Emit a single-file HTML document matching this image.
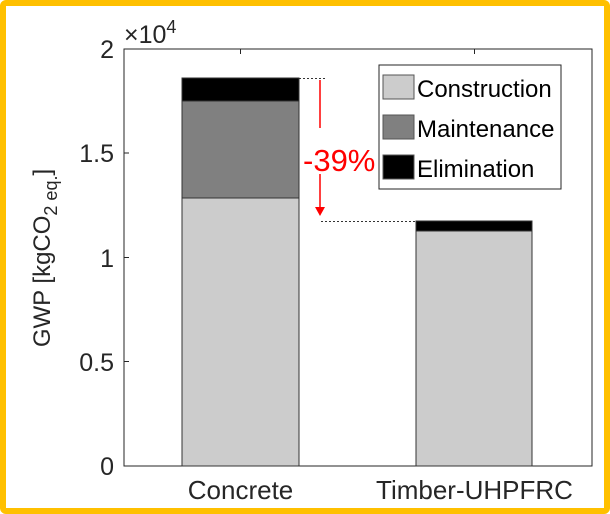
<!DOCTYPE html>
<html><head><style>
body{margin:0;background:#fff;}
.f{position:absolute;left:0;top:0;width:610px;height:514px;box-sizing:border-box;border:6px solid #FFC000;border-radius:6px;}
</style></head><body>
<div class="f"></div>
<svg width="610" height="514" style="position:absolute;left:0;top:0" font-family="Liberation Sans, sans-serif">
<rect x="124" y="49" width="468" height="417" fill="#fff" stroke="#262626" stroke-width="1"/>
<g stroke="#262626" stroke-width="1">
<line x1="124" y1="153" x2="129" y2="153"/><line x1="124" y1="257.5" x2="129" y2="257.5"/><line x1="124" y1="361.5" x2="129" y2="361.5"/>
<line x1="240.5" y1="466" x2="240.5" y2="461"/><line x1="474.5" y1="466" x2="474.5" y2="461"/>
<line x1="240.5" y1="49" x2="240.5" y2="54"/><line x1="474.5" y1="49" x2="474.5" y2="54"/>
</g>
<g stroke="#333" stroke-width="1">
<rect x="182" y="198" width="117" height="268" fill="#cccccc"/>
<rect x="182" y="101" width="117" height="97" fill="#808080"/>
<rect x="182" y="78" width="117" height="23" fill="#000"/>
<rect x="416" y="231" width="116" height="235" fill="#cccccc"/>
<rect x="416" y="221" width="116" height="10" fill="#000"/>
</g>
<g font-size="25" fill="#262626" text-anchor="end">
<text x="114" y="58">2</text><text x="114" y="162">1.5</text><text x="114" y="267">1</text><text x="114" y="371">0.5</text><text x="114" y="475">0</text>
</g>
<text x="124" y="43" font-size="25" fill="#262626">×10<tspan font-size="18" dy="-10">4</tspan></text>
<g font-size="26" fill="#262626" text-anchor="middle">
<text x="240.5" y="499">Concrete</text><text x="474.5" y="499">Timber-UHPFRC</text>
</g>
<text transform="translate(50,258) rotate(-90)" font-size="24" fill="#262626" text-anchor="middle">GWP [kgCO<tspan font-size="18" dy="7">2 eq.</tspan><tspan dy="-7">]</tspan></text>
<g stroke="#333" stroke-width="1" stroke-dasharray="2,2">
<line x1="299" y1="78.5" x2="325" y2="78.5"/><line x1="321" y1="221.5" x2="416" y2="221.5"/>
</g>
<g stroke="#ff0000" stroke-width="1.5">
<line x1="320" y1="80" x2="320" y2="128"/><line x1="320" y1="174" x2="320" y2="210"/>
</g>
<polygon points="315,207 325,207 320,216" fill="#ff0000"/>
<text x="303" y="171" font-size="31" fill="#ff0000">-39%</text>
<rect x="379" y="65" width="182" height="124" fill="#fff" stroke="#262626"/>
<g stroke="#555">
<rect x="383" y="75" width="31" height="24" fill="#cccccc"/>
<rect x="383" y="115" width="31" height="24" fill="#808080"/>
<rect x="383" y="155" width="31" height="24" fill="#000"/>
</g>
<g font-size="24" fill="#000">
<text x="417" y="97">Construction</text><text x="417" y="137">Maintenance</text><text x="417" y="177">Elimination</text>
</g>
</svg>
</body></html>
